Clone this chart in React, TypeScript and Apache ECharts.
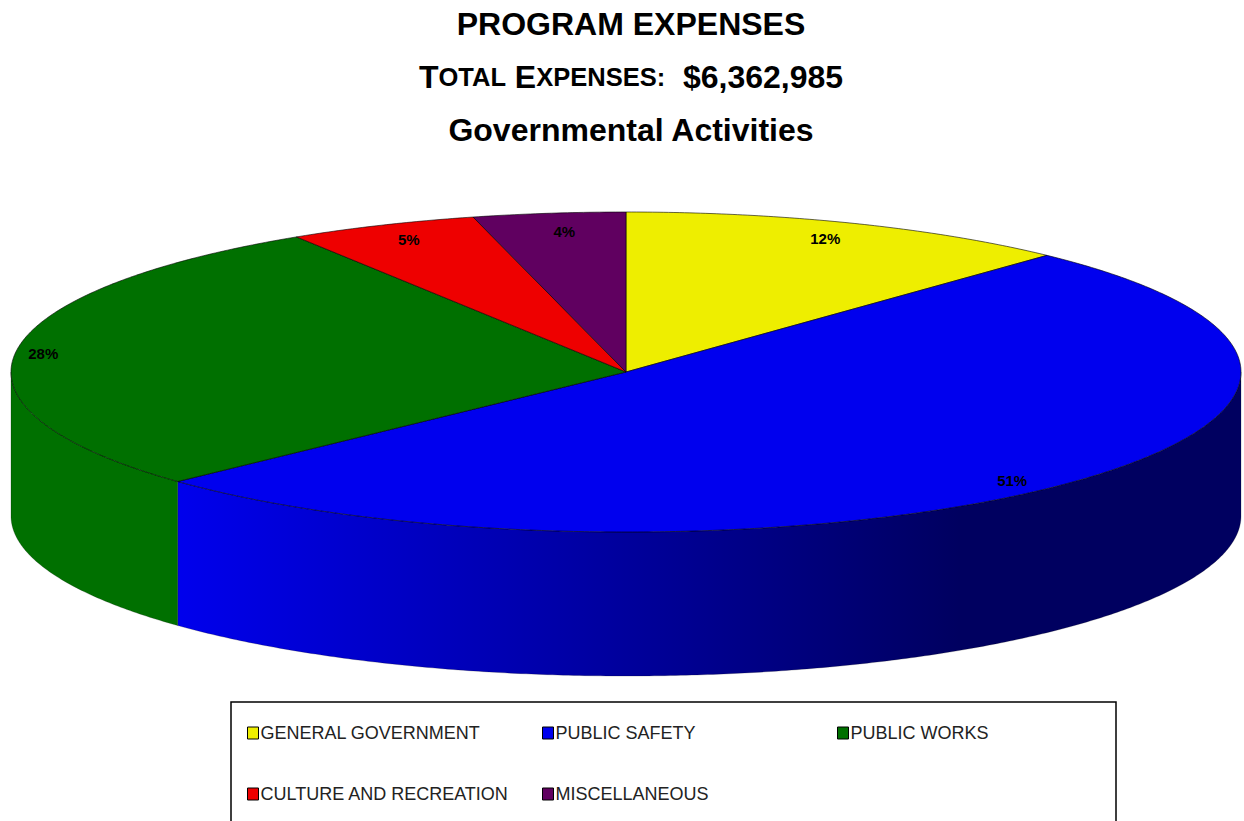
import React, { useEffect, useRef } from "react";
import * as echarts from "echarts";

const categories = [
  "GENERAL GOVERNMENT",
  "PUBLIC SAFETY",
  "PUBLIC WORKS",
  "CULTURE AND RECREATION",
  "MISCELLANEOUS",
];
const percentages = [12, 51, 28, 5, 4];
const topColors = ["#EEEE00", "#0000EE", "#007000", "#EE0000", "#600060"];
const wallDarkColors = ["#606000", "#000060", "#007000", "#600000", "#300030"];
// Horizontal and vertical fractions of the rim at which each percentage sits.
const labelRadii = [
  [0.88, 0.9],
  [0.888, 0.96],
  [0.955, 0.9],
  [0.889, 0.9],
  [0.8, 0.888],
];
const legendSlots = [
  [247, 724],
  [542, 724],
  [837, 724],
  [247, 785],
  [542, 785],
];

const CX = 626;
const CY = 372;
const RX = 615;
const RY = 160;
const DEPTH = 144;
const FONT = '"Liberation Sans", Arial, sans-serif';

const rad = (deg: number) => (deg * Math.PI) / 180;
const rimPoint = (deg: number, drop = 0): number[] => [
  CX + RX * Math.sin(rad(deg)),
  CY - RY * Math.cos(rad(deg)) + drop,
];
const arc = (from: number, to: number, drop = 0): number[][] => {
  const steps = Math.max(2, Math.ceil(Math.abs(to - from) * 2));
  const pts: number[][] = [];
  for (let i = 0; i <= steps; i++) {
    pts.push(rimPoint(from + ((to - from) * i) / steps, drop));
  }
  return pts;
};

const total = percentages.reduce((a, b) => a + b, 0);
const startAngles = percentages.map(
  (_, i) => (percentages.slice(0, i).reduce((a, b) => a + b, 0) / total) * 360,
);

function sliceRenderer(index: number) {
  return (_params: unknown, api: any) => {
    const value = api.value(0) as number;
    const a0 = startAngles[index];
    const a1 = a0 + (value / total) * 360;
    const children: any[] = [];

    // Only the part of the rim facing the viewer has a visible wall.
    const w0 = Math.max(a0, 90);
    const w1 = Math.min(a1, 270);
    if (w1 > w0) {
      children.push({
        type: "polygon",
        shape: { points: [...arc(w0, w1), ...arc(w1, w0, DEPTH)] },
        style: {
          // The wall darkens from left to right across the whole disc.
          fill: new echarts.graphic.LinearGradient(
            170,
            0,
            960,
            0,
            [
              { offset: 0, color: topColors[index] },
              { offset: 1, color: wallDarkColors[index] },
            ],
            true,
          ),
          stroke: "rgba(0,0,0,0.35)",
          lineWidth: 0.6,
        },
      });
    }

    children.push({
      type: "polygon",
      shape: { points: [[CX, CY], ...arc(a0, a1)] },
      style: { fill: topColors[index], stroke: "#000", lineWidth: 0.6, lineJoin: "round" },
    });

    const mid = rad((a0 + a1) / 2);
    const [fx, fy] = labelRadii[index];
    children.push({
      type: "text",
      style: {
        text: `${value}%`,
        x: CX + RX * fx * Math.sin(mid),
        y: CY - RY * fy * Math.cos(mid),
        fill: "#000",
        font: `bold 15px ${FONT}`,
        align: "center",
        verticalAlign: "middle",
      },
    });
    return { type: "group", children };
  };
}

function titleOption(text: string, top: number, rich?: Record<string, unknown>) {
  return {
    text,
    left: 626,
    top,
    textAlign: "center",
    textStyle: {
      fontFamily: FONT,
      fontWeight: "bold",
      fontSize: 32,
      color: "#000",
      rich,
    },
  };
}

export default function App() {
  const ref = useRef<HTMLDivElement>(null);

  useEffect(() => {
    document.body.style.margin = "0";
    document.body.style.overflow = "hidden";
    const chart = echarts.init(ref.current!, undefined, { renderer: "svg" });
    const big = { fontFamily: FONT, fontWeight: "bold", fontSize: 32, color: "#000" };
    const small = { fontFamily: FONT, fontWeight: "bold", fontSize: 25.5, color: "#000" };
    chart.setOption({
      animation: false,
      backgroundColor: "#fff",
      title: [
        titleOption("PROGRAM EXPENSES", 3),
        titleOption("{b|T}{s|OTAL} {b|E}{s|XPENSES:}  {b|$6,362,985}", 56, { b: big, s: small }),
        titleOption("Governmental Activities", 109),
      ],
      legend: categories.map((name, i) => ({
        data: [name],
        left: legendSlots[i][0],
        top: legendSlots[i][1],
        padding: 0,
        icon: "rect",
        itemWidth: 11,
        itemHeight: 12,
        itemGap: 2,
        selectedMode: false,
        itemStyle: { borderColor: "#000", borderWidth: 1 },
        textStyle: {
          fontFamily: FONT,
          fontSize: 18,
          color: "#222",
          padding: [0, 0, 0, -3],
        },
      })),
      graphic: [
        {
          type: "rect",
          shape: { x: 231, y: 702, width: 885, height: 140 },
          style: { fill: "none", stroke: "#000", lineWidth: 1.5 },
        },
      ],
      series: categories.map((name, i) => ({
        type: "custom",
        name,
        coordinateSystem: "none",
        silent: true,
        itemStyle: { color: topColors[i] },
        data: [[percentages[i]]],
        renderItem: sliceRenderer(i),
      })),
    });
    return () => chart.dispose();
  }, []);

  return <div ref={ref} style={{ width: 1244, height: 821 }} />;
}
